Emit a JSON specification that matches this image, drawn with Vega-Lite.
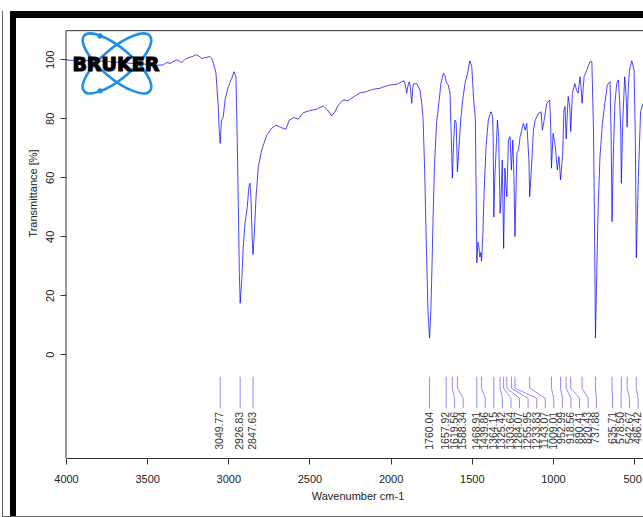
{
  "$schema": "https://vega.github.io/schema/vega-lite/v6.json",
  "background": "white",
  "padding": {"left": 2, "top": 11, "right": 0, "bottom": 0},
  "config": {
    "view": {"stroke": null},
    "font": "Liberation Sans",
    "axis": {"grid": false}
  },
  "datasets": {
    "spectrum": [
      {"wavenumber": 4000, "transmittance": 99.8},
      {"wavenumber": 3960, "transmittance": 99.6},
      {"wavenumber": 3920, "transmittance": 99.9},
      {"wavenumber": 3880, "transmittance": 99.5},
      {"wavenumber": 3840, "transmittance": 99.7},
      {"wavenumber": 3800, "transmittance": 99.3},
      {"wavenumber": 3760, "transmittance": 99.5},
      {"wavenumber": 3720, "transmittance": 99.1},
      {"wavenumber": 3680, "transmittance": 99.0},
      {"wavenumber": 3640, "transmittance": 98.9},
      {"wavenumber": 3600, "transmittance": 98.6},
      {"wavenumber": 3560, "transmittance": 98.7},
      {"wavenumber": 3520, "transmittance": 98.4},
      {"wavenumber": 3480, "transmittance": 98.2},
      {"wavenumber": 3440, "transmittance": 98.0},
      {"wavenumber": 3400, "transmittance": 98.1},
      {"wavenumber": 3380, "transmittance": 98.9},
      {"wavenumber": 3359, "transmittance": 98.6},
      {"wavenumber": 3335, "transmittance": 99.4},
      {"wavenumber": 3318, "transmittance": 99.8},
      {"wavenumber": 3300, "transmittance": 99.3},
      {"wavenumber": 3287, "transmittance": 98.9},
      {"wavenumber": 3270, "transmittance": 99.8},
      {"wavenumber": 3256, "transmittance": 100.3},
      {"wavenumber": 3230, "transmittance": 100.8},
      {"wavenumber": 3210, "transmittance": 101.2},
      {"wavenumber": 3195, "transmittance": 101.5},
      {"wavenumber": 3180, "transmittance": 101.0},
      {"wavenumber": 3164, "transmittance": 100.3},
      {"wavenumber": 3140, "transmittance": 100.6},
      {"wavenumber": 3113, "transmittance": 100.9},
      {"wavenumber": 3100, "transmittance": 100.2},
      {"wavenumber": 3092, "transmittance": 98.6},
      {"wavenumber": 3076, "transmittance": 95.3},
      {"wavenumber": 3062, "transmittance": 83.9},
      {"wavenumber": 3056, "transmittance": 76.0},
      {"wavenumber": 3049.77, "transmittance": 71.5},
      {"wavenumber": 3044, "transmittance": 77.5},
      {"wavenumber": 3041, "transmittance": 79.4},
      {"wavenumber": 3031, "transmittance": 80.5},
      {"wavenumber": 3020, "transmittance": 86.2},
      {"wavenumber": 3000, "transmittance": 90.7},
      {"wavenumber": 2979, "transmittance": 93.5},
      {"wavenumber": 2965, "transmittance": 95.8},
      {"wavenumber": 2953, "transmittance": 94.1},
      {"wavenumber": 2945, "transmittance": 72.6},
      {"wavenumber": 2938, "transmittance": 50.0},
      {"wavenumber": 2932, "transmittance": 27.5},
      {"wavenumber": 2926.83, "transmittance": 17.3},
      {"wavenumber": 2917, "transmittance": 25.2},
      {"wavenumber": 2908, "transmittance": 36.5},
      {"wavenumber": 2897, "transmittance": 44.4},
      {"wavenumber": 2883, "transmittance": 50.0},
      {"wavenumber": 2873, "transmittance": 56.8},
      {"wavenumber": 2866, "transmittance": 58.0},
      {"wavenumber": 2860, "transmittance": 52.3},
      {"wavenumber": 2853, "transmittance": 40.0},
      {"wavenumber": 2847.63, "transmittance": 33.8},
      {"wavenumber": 2842, "transmittance": 38.7},
      {"wavenumber": 2829, "transmittance": 53.4},
      {"wavenumber": 2815, "transmittance": 63.6},
      {"wavenumber": 2794, "transmittance": 69.3},
      {"wavenumber": 2763, "transmittance": 74.3},
      {"wavenumber": 2733, "transmittance": 76.6},
      {"wavenumber": 2706, "transmittance": 77.7},
      {"wavenumber": 2677, "transmittance": 76.9},
      {"wavenumber": 2645, "transmittance": 76.3},
      {"wavenumber": 2624, "transmittance": 79.4},
      {"wavenumber": 2595, "transmittance": 80.3},
      {"wavenumber": 2569, "transmittance": 79.7},
      {"wavenumber": 2538, "transmittance": 81.9},
      {"wavenumber": 2497, "transmittance": 82.6},
      {"wavenumber": 2455, "transmittance": 83.1},
      {"wavenumber": 2415, "transmittance": 84.2},
      {"wavenumber": 2388, "transmittance": 82.8},
      {"wavenumber": 2363, "transmittance": 80.8},
      {"wavenumber": 2343, "transmittance": 82.2},
      {"wavenumber": 2322, "transmittance": 84.5},
      {"wavenumber": 2292, "transmittance": 86.2},
      {"wavenumber": 2261, "transmittance": 86.0},
      {"wavenumber": 2230, "transmittance": 87.2},
      {"wavenumber": 2189, "transmittance": 88.6},
      {"wavenumber": 2150, "transmittance": 89.0},
      {"wavenumber": 2110, "transmittance": 89.8},
      {"wavenumber": 2065, "transmittance": 90.2},
      {"wavenumber": 2030, "transmittance": 90.9},
      {"wavenumber": 2004, "transmittance": 91.3},
      {"wavenumber": 1963, "transmittance": 91.5},
      {"wavenumber": 1932, "transmittance": 92.4},
      {"wavenumber": 1918, "transmittance": 92.7},
      {"wavenumber": 1910, "transmittance": 91.5},
      {"wavenumber": 1901, "transmittance": 88.5},
      {"wavenumber": 1893, "transmittance": 91.0},
      {"wavenumber": 1885, "transmittance": 92.4},
      {"wavenumber": 1878, "transmittance": 90.5},
      {"wavenumber": 1870, "transmittance": 85.1},
      {"wavenumber": 1864, "transmittance": 90.0},
      {"wavenumber": 1860, "transmittance": 91.6},
      {"wavenumber": 1840, "transmittance": 91.8},
      {"wavenumber": 1819, "transmittance": 89.6},
      {"wavenumber": 1808, "transmittance": 85.0},
      {"wavenumber": 1800, "transmittance": 80.0},
      {"wavenumber": 1790, "transmittance": 62.0},
      {"wavenumber": 1780, "transmittance": 37.0},
      {"wavenumber": 1770, "transmittance": 15.0},
      {"wavenumber": 1760.04, "transmittance": 5.5},
      {"wavenumber": 1752, "transmittance": 15.0},
      {"wavenumber": 1745, "transmittance": 30.0},
      {"wavenumber": 1738, "transmittance": 47.0},
      {"wavenumber": 1730, "transmittance": 63.6},
      {"wavenumber": 1717, "transmittance": 78.3},
      {"wavenumber": 1703, "transmittance": 85.1},
      {"wavenumber": 1690, "transmittance": 91.8},
      {"wavenumber": 1675, "transmittance": 95.3},
      {"wavenumber": 1665, "transmittance": 94.5},
      {"wavenumber": 1657.92, "transmittance": 92.3},
      {"wavenumber": 1645, "transmittance": 91.3},
      {"wavenumber": 1634, "transmittance": 88.5},
      {"wavenumber": 1626, "transmittance": 73.0},
      {"wavenumber": 1619.56, "transmittance": 59.7},
      {"wavenumber": 1612, "transmittance": 72.0},
      {"wavenumber": 1604, "transmittance": 79.4},
      {"wavenumber": 1596, "transmittance": 78.5},
      {"wavenumber": 1588.34, "transmittance": 61.9},
      {"wavenumber": 1580, "transmittance": 69.3},
      {"wavenumber": 1568, "transmittance": 79.4},
      {"wavenumber": 1556, "transmittance": 86.2},
      {"wavenumber": 1540, "transmittance": 92.4},
      {"wavenumber": 1528, "transmittance": 94.7},
      {"wavenumber": 1512, "transmittance": 99.5},
      {"wavenumber": 1500, "transmittance": 97.5},
      {"wavenumber": 1488, "transmittance": 86.2},
      {"wavenumber": 1478, "transmittance": 80.0},
      {"wavenumber": 1472, "transmittance": 50.0},
      {"wavenumber": 1468.91, "transmittance": 31.0},
      {"wavenumber": 1462, "transmittance": 38.0},
      {"wavenumber": 1456, "transmittance": 36.5},
      {"wavenumber": 1450, "transmittance": 33.0},
      {"wavenumber": 1444, "transmittance": 34.5},
      {"wavenumber": 1439.86, "transmittance": 31.5},
      {"wavenumber": 1432, "transmittance": 40.0},
      {"wavenumber": 1424, "transmittance": 55.0},
      {"wavenumber": 1412, "transmittance": 70.4},
      {"wavenumber": 1398, "transmittance": 79.4},
      {"wavenumber": 1382, "transmittance": 82.2},
      {"wavenumber": 1372, "transmittance": 80.8},
      {"wavenumber": 1368, "transmittance": 73.8},
      {"wavenumber": 1364.15, "transmittance": 46.5},
      {"wavenumber": 1358, "transmittance": 60.0},
      {"wavenumber": 1350, "transmittance": 69.3},
      {"wavenumber": 1342, "transmittance": 79.4},
      {"wavenumber": 1334, "transmittance": 73.8},
      {"wavenumber": 1325.42, "transmittance": 47.8},
      {"wavenumber": 1320, "transmittance": 52.0},
      {"wavenumber": 1312, "transmittance": 65.9},
      {"wavenumber": 1303.64, "transmittance": 35.9},
      {"wavenumber": 1296, "transmittance": 63.1},
      {"wavenumber": 1290, "transmittance": 57.4},
      {"wavenumber": 1284.07, "transmittance": 53.4},
      {"wavenumber": 1274, "transmittance": 72.6},
      {"wavenumber": 1264, "transmittance": 73.8},
      {"wavenumber": 1255.95, "transmittance": 62.5},
      {"wavenumber": 1247, "transmittance": 72.6},
      {"wavenumber": 1240, "transmittance": 60.0},
      {"wavenumber": 1233.83, "transmittance": 39.9},
      {"wavenumber": 1222, "transmittance": 68.1},
      {"wavenumber": 1212, "transmittance": 69.3},
      {"wavenumber": 1202, "transmittance": 73.8},
      {"wavenumber": 1192, "transmittance": 76.0},
      {"wavenumber": 1182, "transmittance": 78.3},
      {"wavenumber": 1171, "transmittance": 76.0},
      {"wavenumber": 1161, "transmittance": 78.3},
      {"wavenumber": 1155, "transmittance": 72.6},
      {"wavenumber": 1148, "transmittance": 66.0},
      {"wavenumber": 1143.07, "transmittance": 53.4},
      {"wavenumber": 1133, "transmittance": 62.5},
      {"wavenumber": 1120, "transmittance": 76.0},
      {"wavenumber": 1109, "transmittance": 79.4},
      {"wavenumber": 1089, "transmittance": 81.7},
      {"wavenumber": 1073, "transmittance": 82.2},
      {"wavenumber": 1065, "transmittance": 76.0},
      {"wavenumber": 1054, "transmittance": 79.4},
      {"wavenumber": 1038, "transmittance": 85.1},
      {"wavenumber": 1020, "transmittance": 86.2},
      {"wavenumber": 1014, "transmittance": 78.0},
      {"wavenumber": 1009.01, "transmittance": 63.1},
      {"wavenumber": 999, "transmittance": 74.9},
      {"wavenumber": 985, "transmittance": 70.4},
      {"wavenumber": 973, "transmittance": 62.5},
      {"wavenumber": 963, "transmittance": 67.0},
      {"wavenumber": 952.99, "transmittance": 59.1},
      {"wavenumber": 940, "transmittance": 68.1},
      {"wavenumber": 932, "transmittance": 82.8},
      {"wavenumber": 925, "transmittance": 84.0},
      {"wavenumber": 918.56, "transmittance": 73.0},
      {"wavenumber": 906, "transmittance": 87.4},
      {"wavenumber": 896, "transmittance": 84.0},
      {"wavenumber": 890.41, "transmittance": 75.5},
      {"wavenumber": 880, "transmittance": 88.5},
      {"wavenumber": 865, "transmittance": 91.8},
      {"wavenumber": 855, "transmittance": 89.6},
      {"wavenumber": 845, "transmittance": 88.5},
      {"wavenumber": 833, "transmittance": 94.1},
      {"wavenumber": 826, "transmittance": 90.0},
      {"wavenumber": 820.43, "transmittance": 85.1},
      {"wavenumber": 808, "transmittance": 94.1},
      {"wavenumber": 791, "transmittance": 96.4},
      {"wavenumber": 772, "transmittance": 99.2},
      {"wavenumber": 760, "transmittance": 99.2},
      {"wavenumber": 750, "transmittance": 76.0},
      {"wavenumber": 743, "transmittance": 38.7},
      {"wavenumber": 737.88, "transmittance": 5.5},
      {"wavenumber": 730, "transmittance": 27.5},
      {"wavenumber": 721, "transmittance": 50.0},
      {"wavenumber": 710, "transmittance": 67.0},
      {"wavenumber": 695, "transmittance": 78.3},
      {"wavenumber": 680, "transmittance": 85.1},
      {"wavenumber": 665, "transmittance": 91.3},
      {"wavenumber": 648, "transmittance": 92.4},
      {"wavenumber": 641, "transmittance": 72.6},
      {"wavenumber": 635.71, "transmittance": 45.0},
      {"wavenumber": 628, "transmittance": 67.0},
      {"wavenumber": 618, "transmittance": 85.1},
      {"wavenumber": 607, "transmittance": 91.8},
      {"wavenumber": 597, "transmittance": 93.0},
      {"wavenumber": 588, "transmittance": 85.1},
      {"wavenumber": 582, "transmittance": 76.0},
      {"wavenumber": 578.5, "transmittance": 58.0},
      {"wavenumber": 570, "transmittance": 78.3},
      {"wavenumber": 558, "transmittance": 94.1},
      {"wavenumber": 548, "transmittance": 86.8},
      {"wavenumber": 542.67, "transmittance": 77.0},
      {"wavenumber": 536, "transmittance": 90.0},
      {"wavenumber": 528, "transmittance": 96.4},
      {"wavenumber": 514, "transmittance": 99.5},
      {"wavenumber": 500, "transmittance": 96.4},
      {"wavenumber": 492, "transmittance": 72.6},
      {"wavenumber": 486.42, "transmittance": 32.7},
      {"wavenumber": 474, "transmittance": 59.1},
      {"wavenumber": 460, "transmittance": 82.2},
      {"wavenumber": 445, "transmittance": 85.0}
    ],
    "peaks": [
      {"peak": 3049.77, "label_at": 3049.77},
      {"peak": 2926.83, "label_at": 2926.83},
      {"peak": 2847.63, "label_at": 2847.63},
      {"peak": 1760.04, "label_at": 1760.04},
      {"peak": 1657.92, "label_at": 1657.92},
      {"peak": 1619.56, "label_at": 1606},
      {"peak": 1588.34, "label_at": 1553},
      {"peak": 1468.91, "label_at": 1468.91},
      {"peak": 1439.86, "label_at": 1417},
      {"peak": 1364.15, "label_at": 1364},
      {"peak": 1325.42, "label_at": 1311},
      {"peak": 1303.64, "label_at": 1258.5},
      {"peak": 1284.07, "label_at": 1206},
      {"peak": 1255.95, "label_at": 1153},
      {"peak": 1233.83, "label_at": 1100},
      {"peak": 1143.07, "label_at": 1047},
      {"peak": 1009.01, "label_at": 994.5},
      {"peak": 952.99, "label_at": 941.5},
      {"peak": 918.56, "label_at": 889},
      {"peak": 890.41, "label_at": 836},
      {"peak": 820.43, "label_at": 783},
      {"peak": 737.88, "label_at": 732},
      {"peak": 635.71, "label_at": 632.4},
      {"peak": 578.5, "label_at": 580},
      {"peak": 542.67, "label_at": 527.6},
      {"peak": 486.42, "label_at": 475.2}
    ]
  },
  "columns": 5,
  "spacing": 0,
  "bounds": "flush",
  "concat": [
    {"width": 1, "height": 7, "data": {"values": []}, "mark": "rect", "view": {"fill": "#666666"}},
    {"width": 7, "height": 7, "data": {"values": []}, "mark": "rect"},
    {"width": 6, "height": 7, "data": {"values": []}, "mark": "rect", "view": {"fill": "black"}},
    {"width": 50, "height": 7, "data": {"values": []}, "mark": "rect", "view": {"fill": "black"}},
    {"width": 577, "height": 7, "data": {"values": []}, "mark": "rect", "view": {"fill": "black"}},

    {"width": 1, "height": 498, "data": {"values": []}, "mark": "rect", "view": {"fill": "#666666"}},
    {"width": 7, "height": 498, "data": {"values": []}, "mark": "rect"},
    {"width": 6, "height": 498, "data": {"values": []}, "mark": "rect", "view": {"fill": "black"}},
    {"width": 50, "height": 498, "data": {"values": []}, "mark": "rect"},
    {
      "width": 577,
      "height": 440,
      "layer": [
        {
          "data": {"values": [{}]},
          "mark": {"type": "rule", "color": "#333333", "strokeWidth": 1},
          "encoding": {
            "x": {"datum": 4000, "type": "quantitative", "scale": {"domain": [445, 4000], "reverse": true, "nice": false, "zero": false}},
            "y": {"datum": 109.7, "type": "quantitative", "scale": {"domain": [-35.15, 114.0], "nice": false, "zero": false}},
            "y2": {"datum": -35.15}
          }
        },
        {
          "data": {"values": [{}]},
          "mark": {"type": "rule", "color": "#333333", "strokeWidth": 1},
          "encoding": {
            "y": {"datum": 109.7, "type": "quantitative", "scale": {"domain": [-35.15, 114.0], "nice": false, "zero": false}}
          }
        },
        {
          "data": {"name": "spectrum"},
          "mark": {"type": "line", "color": "#0000ff", "strokeWidth": 1, "opacity": 0.72, "clip": true},
          "encoding": {
            "x": {
              "field": "wavenumber",
              "type": "quantitative",
              "title": "Wavenumber cm-1",
              "scale": {"domain": [445, 4000], "reverse": true, "nice": false, "zero": false},
              "axis": {
                "values": [4000, 3500, 3000, 2500, 2000, 1500, 1000, 500],
                "format": "d",
                "domain": true,
                "domainColor": "#333333",
                "tickColor": "#333333",
                "tickSize": 6,
                "labelFontSize": 11,
                "labelColor": "#222222",
                "labelAngle": 0,
                "labelBaseline": "top",
                "labelPadding": 9,
                "labelFlush": false,
                "labelOverlap": false,
                "labelOffset": {"condition": {"test": "datum.value === 500", "value": -2}, "value": 0},
                "titleFontSize": 11,
                "titleFontWeight": "normal",
                "titleColor": "#222222",
                "titleX": 291.5,
                "titleY": 41,
                "titleAlign": "center",
                "titleBaseline": "alphabetic"
              }
            },
            "y": {
              "field": "transmittance",
              "type": "quantitative",
              "title": "Transmittance [%]",
              "scale": {"domain": [-35.15, 114.0], "nice": false, "zero": false},
              "axis": {
                "values": [0, 20, 40, 60, 80, 100],
                "format": "d",
                "domain": false,
                "tickColor": "#333333",
                "tickSize": 6,
                "labelFontSize": 11,
                "labelColor": "#222222",
                "labelAngle": 270,
                "labelAlign": "center",
                "labelBaseline": "bottom",
                "labelPadding": 4.5,
                "titleFontSize": 11,
                "titleFontWeight": "normal",
                "titleColor": "#222222",
                "titleAngle": 270,
                "titleX": -33,
                "titleY": 175,
                "titleAlign": "center",
                "titleBaseline": "middle"
              }
            }
          }
        },
        {
          "data": {"name": "peaks"},
          "mark": {"type": "rule", "color": "#7f7fff", "strokeWidth": 1, "opacity": 0.9},
          "encoding": {
            "x": {"field": "peak", "type": "quantitative", "title": "Wavenumber cm-1", "scale": {"domain": [445, 4000], "reverse": true, "nice": false, "zero": false}},
            "y": {"datum": -7.6, "type": "quantitative", "scale": {"domain": [-35.15, 114.0], "nice": false, "zero": false}},
            "y2": {"datum": -11.5}
          }
        },
        {
          "data": {"name": "peaks"},
          "mark": {"type": "rule", "color": "#7f7fff", "strokeWidth": 1, "opacity": 0.9},
          "encoding": {
            "x": {"field": "peak", "type": "quantitative", "title": "Wavenumber cm-1", "scale": {"domain": [445, 4000], "reverse": true, "nice": false, "zero": false}},
            "x2": {"field": "label_at"},
            "y": {"datum": -11.5, "type": "quantitative", "scale": {"domain": [-35.15, 114.0], "nice": false, "zero": false}},
            "y2": {"datum": -14.9}
          }
        },
        {
          "data": {"name": "peaks"},
          "mark": {"type": "rule", "color": "#7f7fff", "strokeWidth": 1, "opacity": 0.9},
          "encoding": {
            "x": {"field": "label_at", "type": "quantitative", "title": "Wavenumber cm-1", "scale": {"domain": [445, 4000], "reverse": true, "nice": false, "zero": false}},
            "y": {"datum": -14.9, "type": "quantitative", "scale": {"domain": [-35.15, 114.0], "nice": false, "zero": false}},
            "y2": {"datum": -18.3}
          }
        },
        {
          "data": {"name": "peaks"},
          "mark": {"type": "text", "angle": 270, "align": "right", "baseline": "middle", "fontSize": 10.5, "color": "#333333"},
          "encoding": {
            "x": {"field": "label_at", "type": "quantitative", "title": "Wavenumber cm-1", "scale": {"domain": [445, 4000], "reverse": true, "nice": false, "zero": false}},
            "y": {"datum": -19.5, "type": "quantitative", "scale": {"domain": [-35.15, 114.0], "nice": false, "zero": false}},
            "text": {"field": "peak", "type": "quantitative", "format": ".2f"}
          }
        },
        {
          "data": {"values": [{}]},
          "mark": {
            "type": "point",
            "shape": "M0.766,0.643C0.642,0.791,0.198,0.623,-0.225,0.268C-0.648,-0.087,-0.890,-0.495,-0.766,-0.643C-0.642,-0.791,-0.198,-0.623,0.225,-0.268C0.648,0.087,0.890,0.495,0.766,0.643ZM-0.766,0.643C-0.642,0.791,-0.198,0.623,0.225,0.268C0.648,-0.087,0.890,-0.495,0.766,-0.643C0.642,-0.791,0.198,-0.623,-0.225,-0.268C-0.648,0.087,-0.890,0.495,-0.766,0.643Z",
            "size": 7396,
            "filled": false,
            "stroke": "#1e8fea",
            "strokeWidth": 2.6,
            "opacity": 1
          },
          "encoding": {
            "x": {"datum": 3686, "type": "quantitative", "scale": {"domain": [445, 4000], "reverse": true, "nice": false, "zero": false}},
            "y": {"datum": 98.6, "type": "quantitative", "scale": {"domain": [-35.15, 114.0], "nice": false, "zero": false}}
          }
        },
        {
          "data": {"values": [{}]},
          "mark": {"type": "point", "shape": "circle", "size": 30, "filled": true, "color": "#1e8fea", "opacity": 1},
          "encoding": {
            "x": {"datum": 3790, "type": "quantitative", "scale": {"domain": [445, 4000], "reverse": true, "nice": false, "zero": false}},
            "y": {"datum": 107.9, "type": "quantitative", "scale": {"domain": [-35.15, 114.0], "nice": false, "zero": false}}
          }
        },
        {
          "data": {"values": [{}]},
          "mark": {"type": "point", "shape": "circle", "size": 30, "filled": true, "color": "#1e8fea", "opacity": 1},
          "encoding": {
            "x": {"datum": 3790, "type": "quantitative", "scale": {"domain": [445, 4000], "reverse": true, "nice": false, "zero": false}},
            "y": {"datum": 89.3, "type": "quantitative", "scale": {"domain": [-35.15, 114.0], "nice": false, "zero": false}}
          }
        },
        {
          "data": {"values": [{}]},
          "mark": {"type": "text", "text": "BRUKER", "font": "DejaVu Sans", "fontSize": 19, "fontWeight": "bold", "fill": "black", "stroke": "black", "strokeWidth": 1.2, "align": "center", "baseline": "middle"},
          "encoding": {
            "x": {"datum": 3693, "type": "quantitative", "scale": {"domain": [445, 4000], "reverse": true, "nice": false, "zero": false}},
            "y": {"datum": 98.0, "type": "quantitative", "scale": {"domain": [-35.15, 114.0], "nice": false, "zero": false}}
          }
        }
      ]
    },

    {"width": 1, "height": 1, "data": {"values": []}, "mark": "rect", "view": {"fill": "#666666"}},
    {"width": 7, "height": 1, "data": {"values": []}, "mark": "rect", "view": {"fill": "#666666"}},
    {"width": 6, "height": 1, "data": {"values": []}, "mark": "rect", "view": {"fill": "#666666"}},
    {"width": 50, "height": 1, "data": {"values": []}, "mark": "rect", "view": {"fill": "#666666"}},
    {"width": 577, "height": 1, "data": {"values": []}, "mark": "rect", "view": {"fill": "#666666"}}
  ]
}
